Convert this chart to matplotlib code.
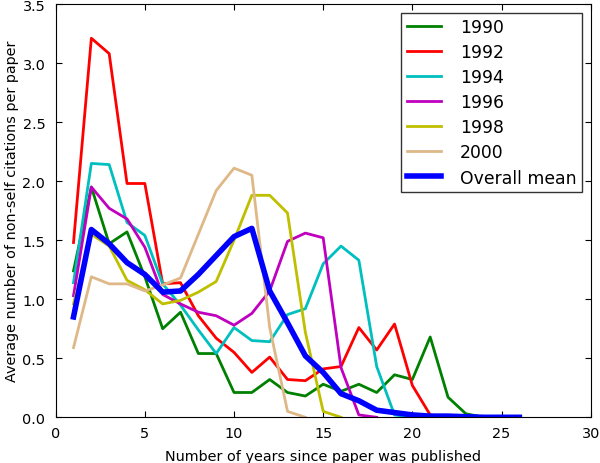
import matplotlib
matplotlib.use('Agg')
import matplotlib.pyplot as plt

years = [1, 2, 3, 4, 5, 6, 7, 8, 9, 10, 11, 12, 13, 14, 15, 16, 17, 18, 19, 20,
         21, 22, 23, 24, 25, 26]

c1990 = [1.24, 1.95, 1.47, 1.57, 1.19, 0.75, 0.89, 0.54, 0.54, 0.21, 0.21, 0.32, 0.21,
         0.18, 0.28, 0.22, 0.28, 0.21, 0.36, 0.32, 0.68, 0.17, 0.03, 0.0]
c1992 = [1.48, 3.21, 3.08, 1.98, 1.98, 1.13, 1.14, 0.86, 0.67, 0.55, 0.38, 0.51, 0.32,
         0.31, 0.41, 0.43, 0.76, 0.57, 0.79, 0.27, 0.02, 0.0]
c1994 = [1.14, 2.15, 2.14, 1.65, 1.54, 1.13, 0.95, 0.74, 0.54, 0.76, 0.65, 0.64, 0.87,
         0.92, 1.30, 1.45, 1.33, 0.43, 0.02, 0.0]
c1996 = [1.03, 1.95, 1.77, 1.68, 1.44, 1.04, 0.96, 0.89, 0.86, 0.78, 0.88, 1.07, 1.49,
         1.56, 1.52, 0.42, 0.02, 0.0]
c1998 = [0.96, 1.55, 1.45, 1.16, 1.08, 0.96, 0.99, 1.06, 1.15, 1.50, 1.88, 1.88, 1.73,
         0.72, 0.05, 0.0]
c2000 = [0.59, 1.19, 1.13, 1.13, 1.07, 1.12, 1.18, 1.55, 1.92, 2.11, 2.05, 0.76, 0.05,
         0.0]
mean = [0.85, 1.59, 1.47, 1.31, 1.21, 1.06, 1.07, 1.21, 1.37, 1.53, 1.60, 1.07, 0.80,
        0.52, 0.38, 0.20, 0.14, 0.06, 0.04, 0.02, 0.01, 0.01, 0.005, 0.0, 0.0, 0.0]

series = [("1990", c1990, (0, 0.5, 0)),
          ("1992", c1992, (1, 0, 0)),
          ("1994", c1994, (0, 0.75, 0.75)),
          ("1996", c1996, (0.75, 0, 0.75)),
          ("1998", c1998, (0.75, 0.75, 0)),
          ("2000", c2000, "burlywood")]

plt.rcParams['font.family'] = 'DejaVu Sans'
plt.rcParams['font.size'] = 10.4
plt.rcParams['xtick.direction'] = 'in'
plt.rcParams['ytick.direction'] = 'in'
plt.rcParams['xtick.top'] = True
plt.rcParams['ytick.right'] = True
plt.rcParams['xtick.major.size'] = 4
plt.rcParams['ytick.major.size'] = 4
plt.rcParams['xtick.major.pad'] = 6.5
plt.rcParams['ytick.major.pad'] = 7.5

fig = plt.figure(figsize=(6, 4.64), dpi=100)
ax = fig.add_axes([0.0928, 0.0985, 0.8917, 0.8907])

for name, vals, col in series:
    ax.plot(years[:len(vals)], vals, color=col, lw=2, label=name)
ax.plot(years, mean, color=(0, 0, 1), lw=4, label="Overall mean")

ax.set_xlim(0, 30)
ax.set_ylim(0, 3.5)
ax.set_xticks(range(0, 31, 5))
ax.set_yticks([0, 0.5, 1.0, 1.5, 2.0, 2.5, 3.0, 3.5])
ax.set_yticklabels(["0.0", "0.5", "1.0", "1.5", "2.0", "2.5", "3.0", "3.5"])
ax.set_xlabel("Number of years since paper was published", labelpad=6)
ax.set_ylabel("Average number of non-self citations per paper", labelpad=2)

# legend sized to match the reference box (approx 405..582 x 14..189 px)
leg = ax.legend(loc='upper right', fancybox=False, fontsize=12.4, handlelength=2,
                handletextpad=1.1, borderpad=0.3, borderaxespad=0.52,
                labelspacing=0.41)
leg.get_frame().set_edgecolor('black')
leg.get_frame().set_linewidth(1)

fig.savefig("out.png", dpi=100)
